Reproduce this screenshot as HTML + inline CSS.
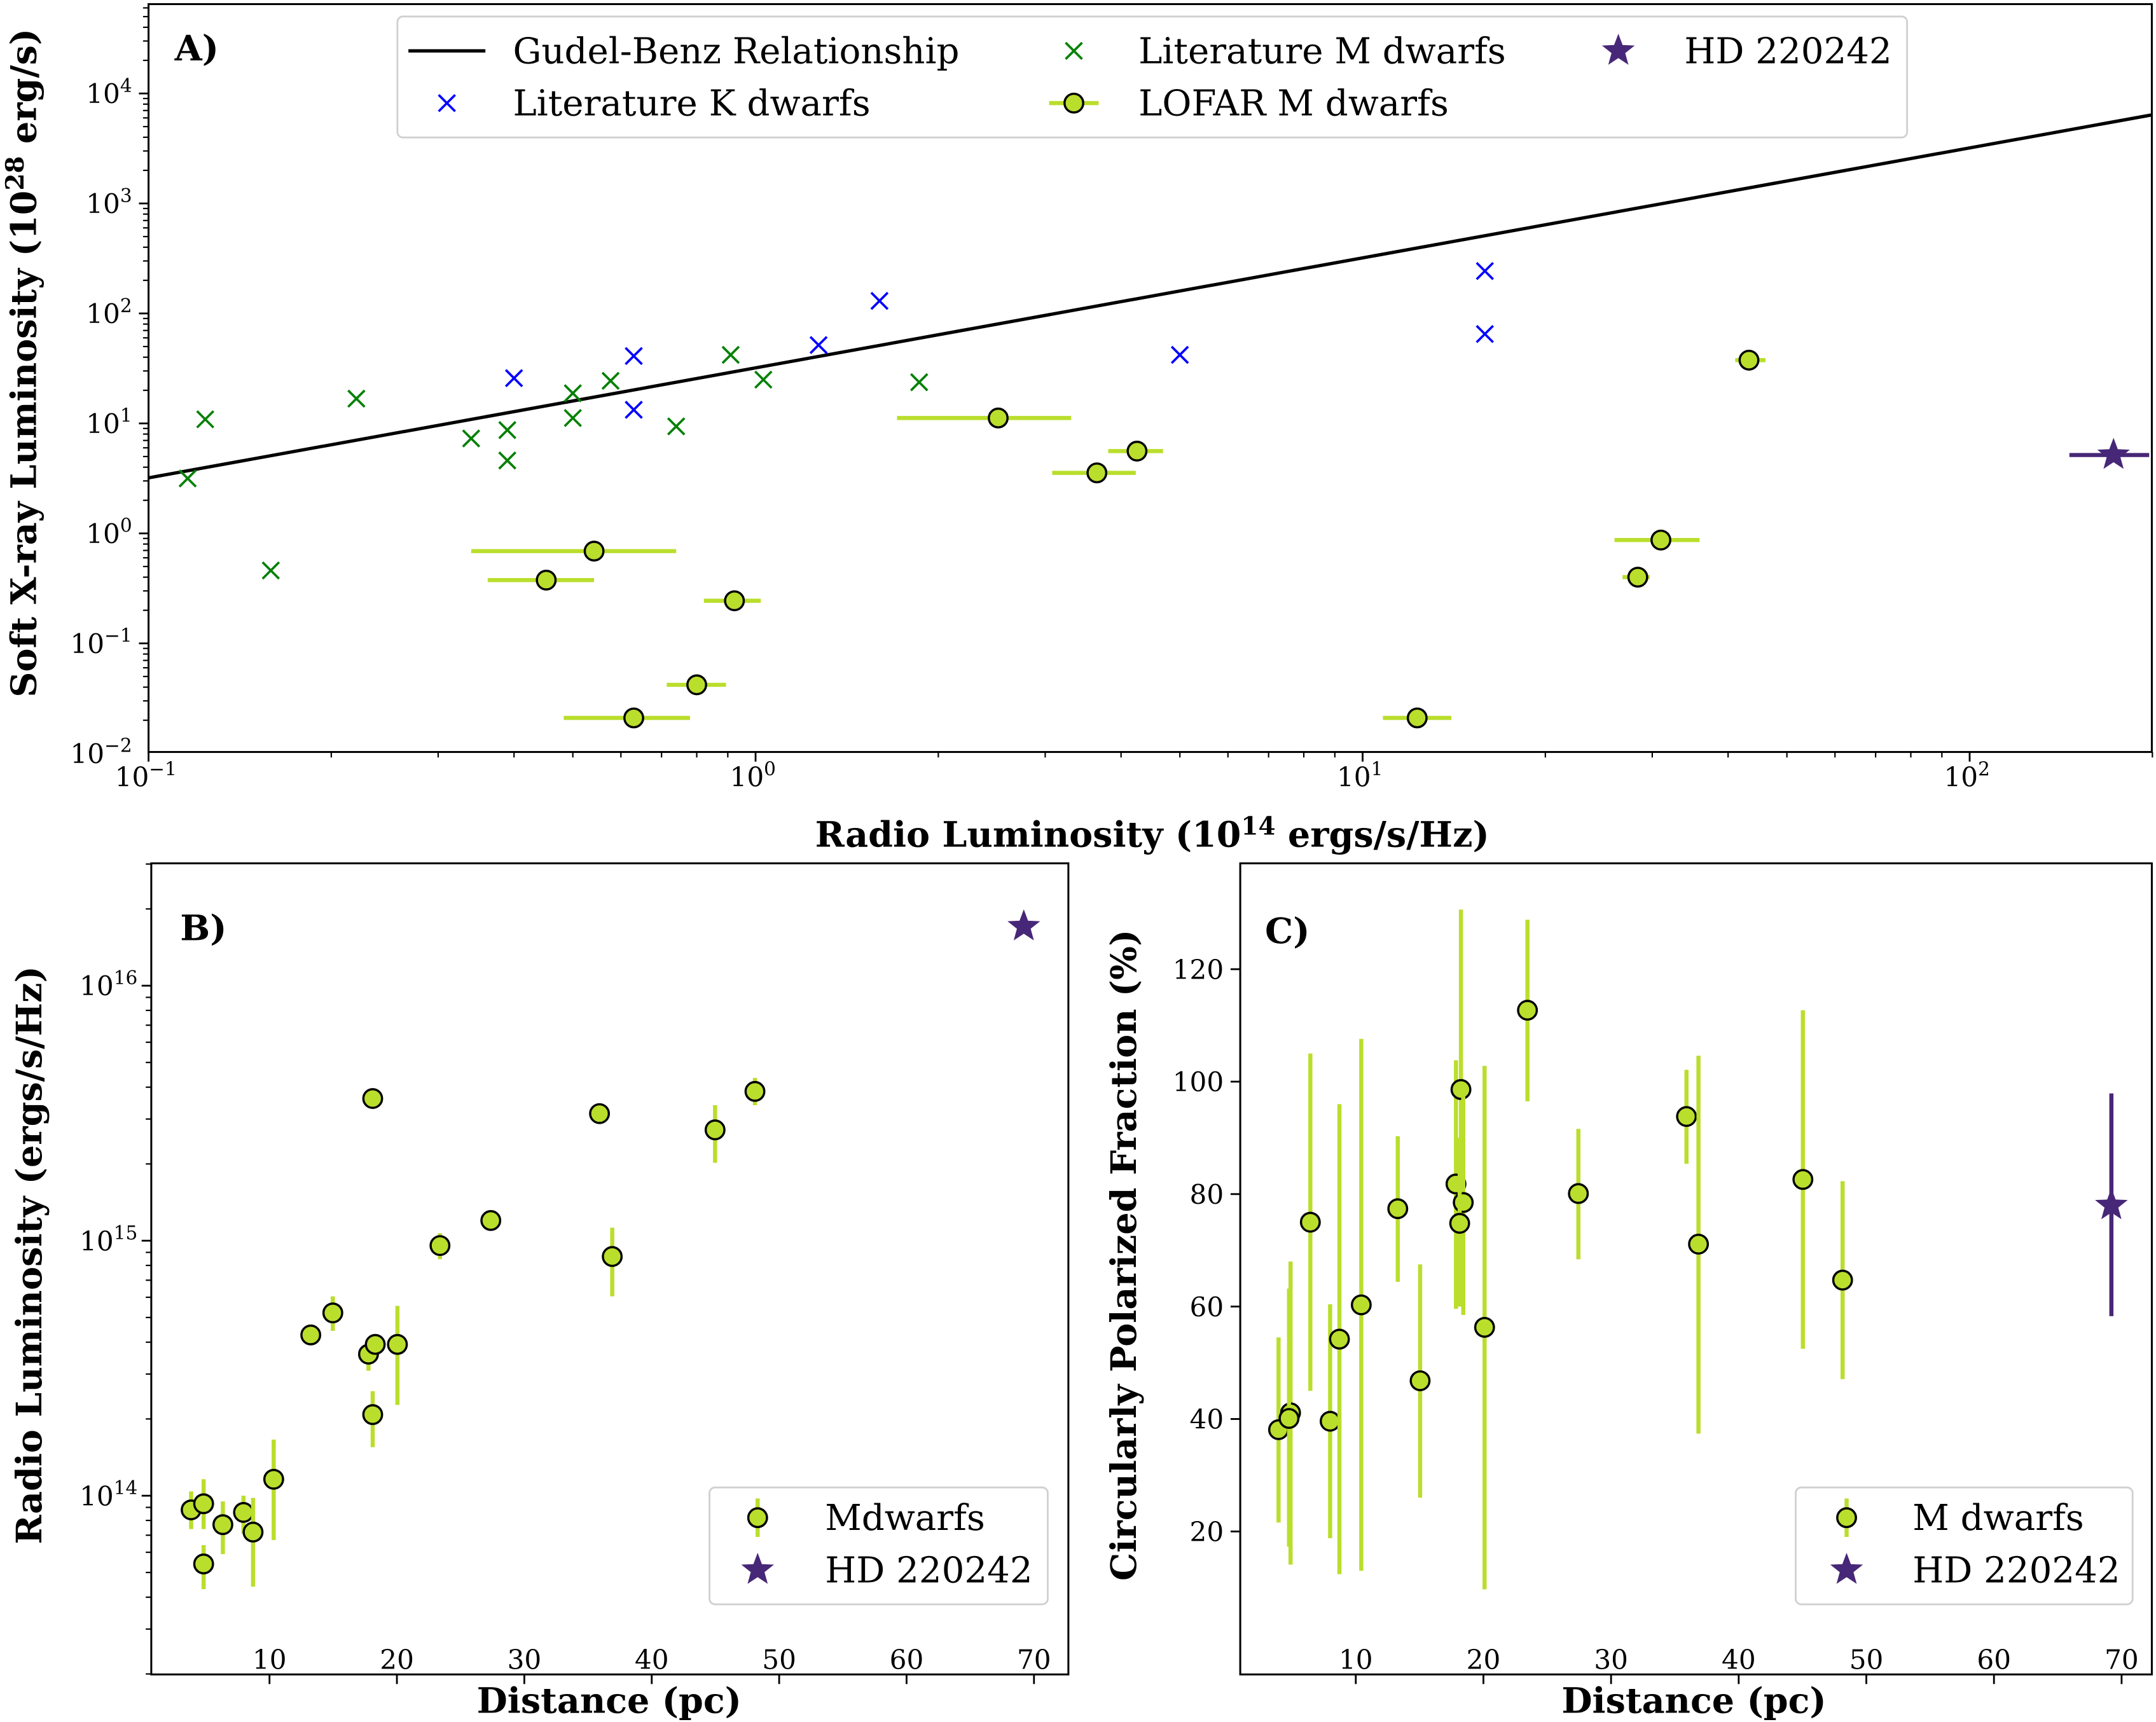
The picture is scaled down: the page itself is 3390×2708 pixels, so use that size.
<!DOCTYPE html>
<html><head><meta charset="utf-8"><style>
html,body{margin:0;padding:0;background:#fff;}
svg{display:block;}
text{font-family:"DejaVu Serif","Liberation Serif",serif;fill:#000;}
</style></head><body>
<svg id="fig" xmlns="http://www.w3.org/2000/svg" width="3390" height="2708" viewBox="0 0 1568 1252.6">
<rect x="0" y="0" width="1568" height="1253" fill="#fff"/>
</svg>
<script>
// ---------- Panel A data ----------
const litMx=[0.116,0.124,0.22,0.159,0.34,0.39,0.39,0.50,0.50,0.577,0.74,0.91,1.03,1.86];
const litMy=[3.16,10.9,16.8,0.46,7.3,8.7,4.6,18.8,11.2,24.4,9.4,42,25,23.7];
const litKx=[0.40,0.63,0.63,1.27,1.60,5.0,15.9,15.9];
const litKy=[25.8,41,13.3,51.6,130,42,243,65];
const lofX=[2.51,4.25,3.65,0.542,0.452,0.923,0.80,0.63,12.3,43.3,31.0,28.4];
const lofY=[11.2,5.6,3.55,0.69,0.376,0.244,0.042,0.021,0.021,37.6,0.87,0.40];
const lofXlo=[1.71,3.81,3.08,0.34,0.362,0.822,0.714,0.483,10.8,41.1,26.0,26.8];
const lofXhi=[3.31,4.69,4.23,0.74,0.542,1.02,0.894,0.78,14.0,46.1,35.9,29.7];
const hdA=[172.6,5.16,146,197.6];
const gbCoef=32;
const aXticks=[0.1,1,10,100], aXexp=["−1","0","1","2"];
const aYticks=[0.01,0.1,1,10,100,1000,10000], aYexp=["−2","−1","0","1","2","3","4"];
// ---------- Panel B data (radio lum in 1e14 units) ----------
const bD=[3.85,4.83,4.83,6.34,7.96,8.71,10.33,13.24,14.97,17.77,18.3,18.1,20.04,18.1,23.38,27.37,35.9,36.9,44.97,48.1];
const bL=[0.88,0.93,0.54,0.77,0.86,0.72,1.16,4.27,5.21,3.59,3.92,2.08,3.92,36.1,9.57,12.0,31.5,8.67,27.2,38.5];
const bLhi=[1.04,1.16,0.64,0.95,1.0,0.98,1.66,4.27,6.05,4.06,3.92,2.57,5.55,36.1,10.7,12.0,31.5,11.25,34.0,43.5];
const bLlo=[0.74,0.74,0.43,0.59,0.71,0.44,0.67,4.27,4.43,3.09,3.92,1.55,2.27,36.1,8.46,12.0,31.5,6.05,20.2,34.0];
const hdB=[69.2,170.6];
const bXticks=[10,20,30,40,50,60,70];
const bYticks=[1,10,100], bYexp=["14","15","16"];
// ---------- Panel C data ----------
const cD=[3.95,4.89,4.77,6.44,7.99,8.72,10.43,13.29,15.04,17.85,18.24,18.42,18.14,20.09,23.45,27.44,35.91,36.85,45.03,48.14];
const cP=[38.1,41.1,40.1,75.0,39.6,54.2,60.3,77.4,46.8,81.8,98.6,78.5,74.8,56.3,112.7,80.1,93.8,71.1,82.6,64.7];
const cPhi=[54.5,68.0,63.2,105.0,60.4,96.0,107.6,90.3,67.5,103.8,130.6,98.5,90,102.8,128.8,91.6,102.1,104.6,112.7,82.3];
const cPlo=[21.6,14.1,17.3,45.0,18.8,12.4,13.0,64.4,26.0,59.6,66.6,58.5,60,9.7,96.5,68.4,85.4,37.4,52.5,47.1];
const hdC=[69.2,78.0,97.9,58.3];
const cXticks=[10,20,30,40,50,60,70];
const cYticks=[20,40,60,80,100,120];

const NS="http://www.w3.org/2000/svg";
const svg=document.getElementById('fig');
function mk(tag,attrs,parent){const e=document.createElementNS(NS,tag);for(const k in attrs)e.setAttribute(k,attrs[k]);(parent||svg).appendChild(e);return e;}
const GREEN="#bade2c", PURPLE="#472777";
const TF=25.7, LF=26;
const ax=v=>108+(Math.log10(v)+1)*441.5, ay=v=>388-Math.log10(v)*80;
const bx=v=>103.3+9.267*v, by=v=>1088-185.5*Math.log10(v);
const cx=v=>893.2+9.283*v, cy=v=>1195.8-4.09*v;
const A={l:108,r:1565,t:3,b:547}, B={l:110,r:777,t:628,b:1218}, C={l:902,r:1565,t:628,b:1218};

function clip(id,R){const cp=mk('clipPath',{id:id});mk('rect',{x:R.l,y:R.t,width:R.r-R.l,height:R.b-R.t},cp);}
clip('clipA',A);clip('clipB',B);clip('clipC',C);
function frame(R,name){const r=mk('rect',{x:R.l,y:R.t,width:R.r-R.l,height:R.b-R.t,fill:'none',stroke:'#000','stroke-width':1.4});

}
function txt(x,y,s,opt,parent){const t=mk('text',Object.assign({x:x,y:y},opt||{}),parent);t.textContent=s;return t;}
function powLabel(x,y,base,exp,anchor,size){const t=mk('text',{x:x,y:y,'font-size':size,'text-anchor':anchor});
 const a=mk('tspan',{},t);a.textContent=base;const b=mk('tspan',{dy:-8,'font-size':size*0.7},t);b.textContent=exp;return t;}
function xMark(g,x,y,col){mk('path',{d:`M${x-6},${y-6}L${x+6},${y+6}M${x-6},${y+6}L${x+6},${y-6}`,stroke:col,'stroke-width':1.7,fill:'none'},g);}
function circ(g,x,y){return mk('circle',{cx:x,cy:y,r:6.8,fill:GREEN,stroke:'#000','stroke-width':1.6},g);}
function star(g,x,y,r){let d='';for(let i=0;i<10;i++){const rr=i%2?r*0.42:r;const a=-Math.PI/2+i*Math.PI/5;d+=(i?'L':'M')+(x+rr*Math.cos(a)).toFixed(2)+','+(y+rr*Math.sin(a)).toFixed(2);}return mk('path',{d:d+'Z',fill:PURPLE},g);}

// ================= Panel A =================
const gA=mk('g',{'clip-path':'url(#clipA)'});


const gb=mk('line',{x1:ax(0.1),y1:ay(0.1*gbCoef),x2:ax(200),y2:ay(200*gbCoef),stroke:'#000','stroke-width':2.4},gA);


litMx.forEach((v,i)=>{const g=mk('g',{},gA);


xMark(g,ax(v),ay(litMy[i]),'#008000');});
litKx.forEach((v,i)=>{const g=mk('g',{},gA);


xMark(g,ax(v),ay(litKy[i]),'#0000ff');});
lofX.forEach((v,i)=>{const g=mk('g',{},gA);


mk('line',{x1:ax(lofXlo[i]),x2:ax(lofXhi[i]),y1:ay(lofY[i]),y2:ay(lofY[i]),stroke:GREEN,'stroke-width':3},g);circ(g,ax(v),ay(lofY[i]));});
{const g=mk('g',{},gA);


mk('line',{x1:ax(hdA[2]),x2:ax(hdA[3]),y1:ay(hdA[1]),y2:ay(hdA[1]),stroke:PURPLE,'stroke-width':3},g);star(g,ax(hdA[0]),ay(hdA[1]),12.5);}
frame(A,'panel-a-frame');
for(let d=-1;d<=2;d++){for(let m=1;m<=9;m++){const v=m*Math.pow(10,d);if(v>200)break;const x=ax(v);mk('line',{x1:x,x2:x,y1:A.b,y2:A.b+(m==1?7:4),stroke:'#000','stroke-width':m==1?1.3:1});}}
for(let d=-2;d<=4;d++){for(let m=1;m<=9;m++){const v=m*Math.pow(10,d);const y=ay(v);if(y<A.t||y>A.b+0.5)continue;mk('line',{x1:A.l,x2:A.l-(m==1?7:4),y1:y,y2:y,stroke:'#000','stroke-width':m==1?1.3:1});}}
aXticks.forEach((v,i)=>{const t=powLabel(ax(v)-2,572,'10',aXexp[i],'middle',19.5);

});
aYticks.forEach((v,i)=>{const t=powLabel(96,ay(v)+7,'10',aYexp[i],'end',19.5);

});
{const t=mk('text',{x:838,y:616,'font-size':TF,'font-weight':'bold','text-anchor':'middle'});


const s1=mk('tspan',{},t);s1.textContent='Radio Luminosity (10';const s2=mk('tspan',{dy:-9,'font-size':18},t);s2.textContent='14';const s3=mk('tspan',{dy:9},t);s3.textContent=' ergs/s/Hz)';}
{const t=mk('text',{x:0,y:0,'font-size':TF,'font-weight':'bold','text-anchor':'middle',transform:'translate(26,264) rotate(-90)'});


const s1=mk('tspan',{},t);s1.textContent='Soft X-ray Luminosity (10';const s2=mk('tspan',{dy:-9,'font-size':18},t);s2.textContent='28';const s3=mk('tspan',{dy:9},t);s3.textContent=' erg/s)';}
{const t=txt(127,44,'A)',{'font-size':TF,'font-weight':'bold'});

}
{const g=mk('g',{});


mk('rect',{x:289,y:12,width:1098,height:88,rx:4,fill:'#fff','fill-opacity':0.8,stroke:'#d0d0d0','stroke-width':1.3},g);
mk('line',{x1:297,x2:353,y1:37,y2:37,stroke:'#000','stroke-width':2.4},g);
txt(373,46,'Gudel-Benz Relationship',{'font-size':LF},g);
xMark(g,325,75,'#0000ff');txt(373,84,'Literature K dwarfs',{'font-size':LF},g);
xMark(g,781,37,'#008000');txt(828,46,'Literature M dwarfs',{'font-size':LF},g);
mk('line',{x1:763,x2:799,y1:75,y2:75,stroke:GREEN,'stroke-width':3},g);circ(g,781,75);
txt(828,84,'LOFAR M dwarfs',{'font-size':LF},g);
star(g,1177,37,12.5);txt(1225,46,'HD 220242',{'font-size':LF},g);}

// ================= Panel B =================
const gB=mk('g',{'clip-path':'url(#clipB)'});


bD.forEach((v,i)=>{const g=mk('g',{},gB);


if(bLhi[i]!==bLlo[i])mk('line',{x1:bx(v),x2:bx(v),y1:by(bLhi[i]),y2:by(bLlo[i]),stroke:GREEN,'stroke-width':3},g);circ(g,bx(v),by(bL[i]));});
{const g=mk('g',{},gB);


star(g,bx(hdB[0]),by(hdB[1]),12.5);}
frame(B,'panel-b-frame');
bXticks.forEach(v=>{const x=bx(v);mk('line',{x1:x,x2:x,y1:B.b,y2:B.b+7,stroke:'#000','stroke-width':1.3});
const t=txt(x,1214,String(v),{'font-size':19.5,'text-anchor':'middle'});

});
for(let d=-1;d<=2;d++){for(let m=1;m<=9;m++){const v=m*Math.pow(10,d);const y=by(v);if(y<B.t||y>B.b)continue;mk('line',{x1:B.l,x2:B.l-(m==1?7:4),y1:y,y2:y,stroke:'#000','stroke-width':m==1?1.3:1});}}
bYticks.forEach((v,i)=>{const t=powLabel(100,by(v)+7,'10',bYexp[i],'end',19.5);

});
{const t=txt(443,1246,'Distance (pc)',{'font-size':TF,'font-weight':'bold','text-anchor':'middle'});

}
{const t=txt(0,0,'Radio Luminosity (ergs/s/Hz)',{'font-size':TF,'font-weight':'bold','text-anchor':'middle',transform:'translate(30,913) rotate(-90)'});

}
{const t=txt(131,684,'B)',{'font-size':TF,'font-weight':'bold'});

}
{const g=mk('g',{});


mk('rect',{x:516,y:1082,width:246,height:85,rx:4,fill:'#fff','fill-opacity':0.8,stroke:'#d0d0d0','stroke-width':1.3},g);
mk('line',{x1:551,x2:551,y1:1090,y2:1118,stroke:GREEN,'stroke-width':3},g);circ(g,551,1104);
txt(600,1113,'Mdwarfs',{'font-size':LF},g);
star(g,551,1142,12.5);txt(600,1151,'HD 220242',{'font-size':LF},g);}

// ================= Panel C =================
const gC=mk('g',{'clip-path':'url(#clipC)'});


cD.forEach((v,i)=>{const g=mk('g',{},gC);


mk('line',{x1:cx(v),x2:cx(v),y1:cy(cPhi[i]),y2:cy(cPlo[i]),stroke:GREEN,'stroke-width':3},g);circ(g,cx(v),cy(cP[i]));});
{const g=mk('g',{},gC);


mk('line',{x1:cx(hdC[0]),x2:cx(hdC[0]),y1:cy(hdC[2]),y2:cy(hdC[3]),stroke:PURPLE,'stroke-width':3},g);star(g,cx(hdC[0]),cy(hdC[1]),12.5);}
frame(C,'panel-c-frame');
cXticks.forEach(v=>{const x=cx(v);mk('line',{x1:x,x2:x,y1:C.b,y2:C.b+7,stroke:'#000','stroke-width':1.3});
const t=txt(x,1214,String(v),{'font-size':19.5,'text-anchor':'middle'});

});
cYticks.forEach(v=>{const y=cy(v);mk('line',{x1:C.l,x2:C.l-7,y1:y,y2:y,stroke:'#000','stroke-width':1.3});
const t=txt(890,y+7,String(v),{'font-size':19.5,'text-anchor':'end'});

});
{const t=txt(1232,1246,'Distance (pc)',{'font-size':TF,'font-weight':'bold','text-anchor':'middle'});

}
{const t=txt(0,0,'Circularly Polarized Fraction (%)',{'font-size':TF,'font-weight':'bold','text-anchor':'middle',transform:'translate(826,913) rotate(-90)'});

}
{const t=txt(920,686,'C)',{'font-size':TF,'font-weight':'bold'});

}
{const g=mk('g',{});


mk('rect',{x:1306,y:1082,width:245,height:85,rx:4,fill:'#fff','fill-opacity':0.8,stroke:'#d0d0d0','stroke-width':1.3},g);
mk('line',{x1:1343,x2:1343,y1:1090,y2:1118,stroke:GREEN,'stroke-width':3},g);circ(g,1343,1104);
txt(1391,1113,'M dwarfs',{'font-size':LF},g);
star(g,1343,1142,12.5);txt(1391,1151,'HD 220242',{'font-size':LF},g);}
</script>
</body></html>
